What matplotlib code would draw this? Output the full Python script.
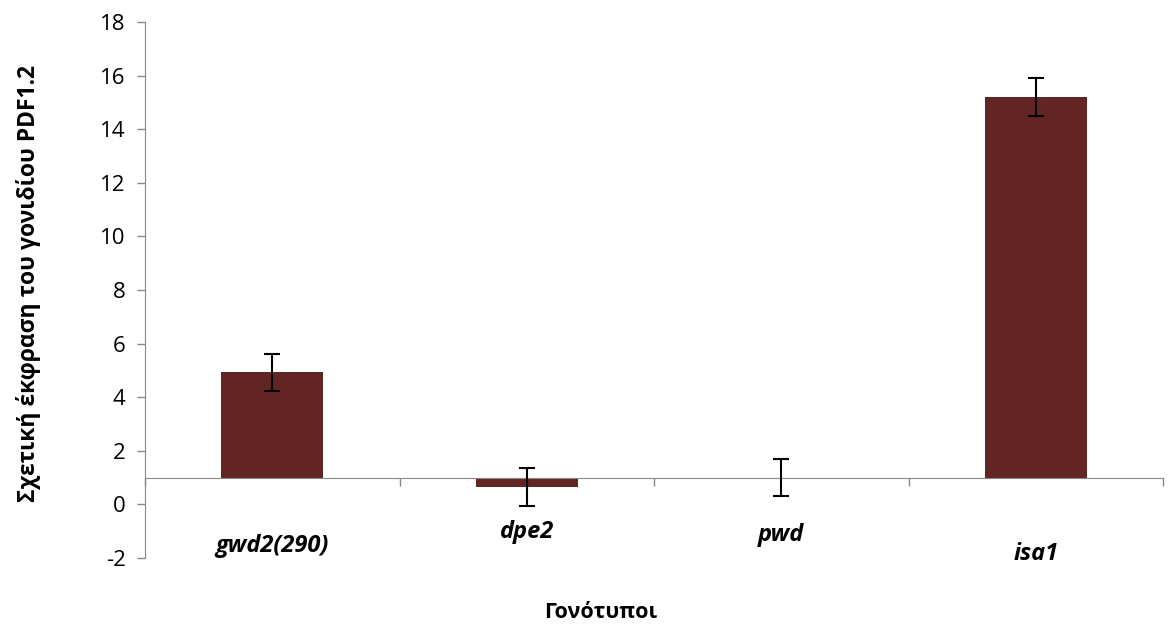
import numpy as np
import matplotlib
matplotlib.use('Agg')
import matplotlib.pyplot as plt

genotypes = ['gwd2(290)', 'dpe2', 'pwd', 'isa1']
expression = [4.93, 0.65, 1.0, 15.2]
errors = [0.7, 0.7, 0.7, 0.7]
baseline = 1.0
yticks = list(range(-2, 19, 2))

# staggered label heights (data units), as in the original
label_y = [-1.54, -1.04, -1.16, -1.84]

plt.rcParams['font.family'] = ['Open Sans', 'DejaVu Sans']
plt.rcParams['axes.unicode_minus'] = False

fig = plt.figure(figsize=(11.73, 6.31), dpi=100)
ax = fig.add_axes([0.1236, 0.1157, 0.868, 0.8494])

x = np.arange(len(genotypes))
vals = np.array(expression)
ax.bar(x, vals - baseline, bottom=baseline, width=0.4, color='#632523', zorder=2)
ax.errorbar(x, vals, yerr=errors, fmt='none', ecolor='black', elinewidth=1.5,
            capsize=6, capthick=1.5, zorder=3)

ax.set_xlim(-0.5, len(genotypes) - 0.5)
ax.set_ylim(-2, 18)
ax.set_yticks(yticks)
ax.tick_params(axis='y', labelsize=16, length=6, color='#888888', width=1, pad=8)

for s in ['top', 'right']:
    ax.spines[s].set_visible(False)
ax.spines['left'].set_color('#888888')
ax.spines['bottom'].set_position(('data', baseline))
ax.spines['bottom'].set_color('#888888')
ax.set_xticks(np.arange(len(genotypes) + 1) - 0.5)
ax.set_xticklabels([])
ax.tick_params(axis='x', length=6, color='#888888', width=1, direction='out')

for xi, name, ly in zip(x, genotypes, label_y):
    ax.text(xi, ly, name, ha='center', va='center', fontsize=17,
            fontweight='bold', fontstyle='italic')

fig.text(0.024, 0.55, 'Σχετική έκφραση του γονιδίου PDF1.2', rotation=90,
         ha='center', va='center', fontsize=16.5, fontweight='bold')
fig.text(0.512, 0.03, 'Γονότυποι', ha='center', va='center', fontsize=15.5,
         fontweight='bold')

fig.savefig('out.png', dpi=100)
